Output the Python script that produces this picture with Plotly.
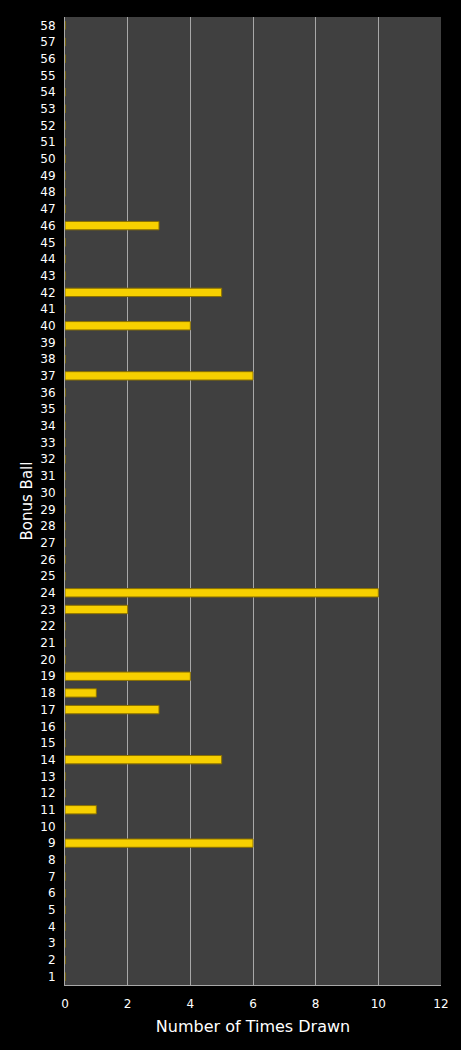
import plotly.graph_objects as go

# Bonus ball numbers and how often each was drawn
balls = list(range(1, 59))
drawn_balls = [9, 11, 14, 17, 18, 19, 23, 24, 37, 40, 42, 46]
drawn_counts = [6, 1, 5, 3, 1, 4, 2, 10, 6, 4, 5, 3]
x_ticks = [0, 2, 4, 6, 8, 10, 12]

counts = dict(zip(drawn_balls, drawn_counts))
values = [counts.get(b, 0) for b in balls]

fig = go.Figure()

fig.add_trace(
    go.Bar(
        x=values,
        y=[str(b) for b in balls],
        orientation='h',
        marker=dict(color='#f7d000', line=dict(color='#8a7000', width=1)),
        hovertemplate='Ball %{y}: %{x}<extra></extra>'
    )
)

fig.update_layout(
    width=461,
    height=1050,
    margin=dict(l=65, r=20, t=17, b=65),
    paper_bgcolor='#000000',
    plot_bgcolor='#404040',
    font=dict(family='DejaVu Sans', color='#ffffff', size=12),
    bargap=0.5,
    showlegend=False,
    xaxis=dict(
        range=[0, 12],
        tickvals=x_ticks,
        showgrid=True,
        gridcolor='#a8a8a8',
        gridwidth=1,
        zeroline=False,
        showline=True,
        linecolor='#a8a8a8',
        ticks='outside',
        ticklen=8,
        tickcolor='rgba(0,0,0,0)',
        title=dict(text='Number of Times Drawn', font=dict(size=16), standoff=10),
        tickfont=dict(size=12)
    ),
    yaxis=dict(
        type='category',
        categoryorder='array',
        categoryarray=[str(b) for b in balls],
        showgrid=False,
        showline=True,
        linecolor='#a8a8a8',
        ticks='outside',
        ticklen=6,
        tickcolor='rgba(0,0,0,0)',
        title=dict(text='Bonus Ball', font=dict(size=15), standoff=4),
        tickfont=dict(size=12)
    )
)

# drop the page margin so the chart fills the window
fig.write_html(
    "out.html",
    config={'displayModeBar': False},
    post_script="document.body.style.margin='0';document.body.style.background='#000';"
)
